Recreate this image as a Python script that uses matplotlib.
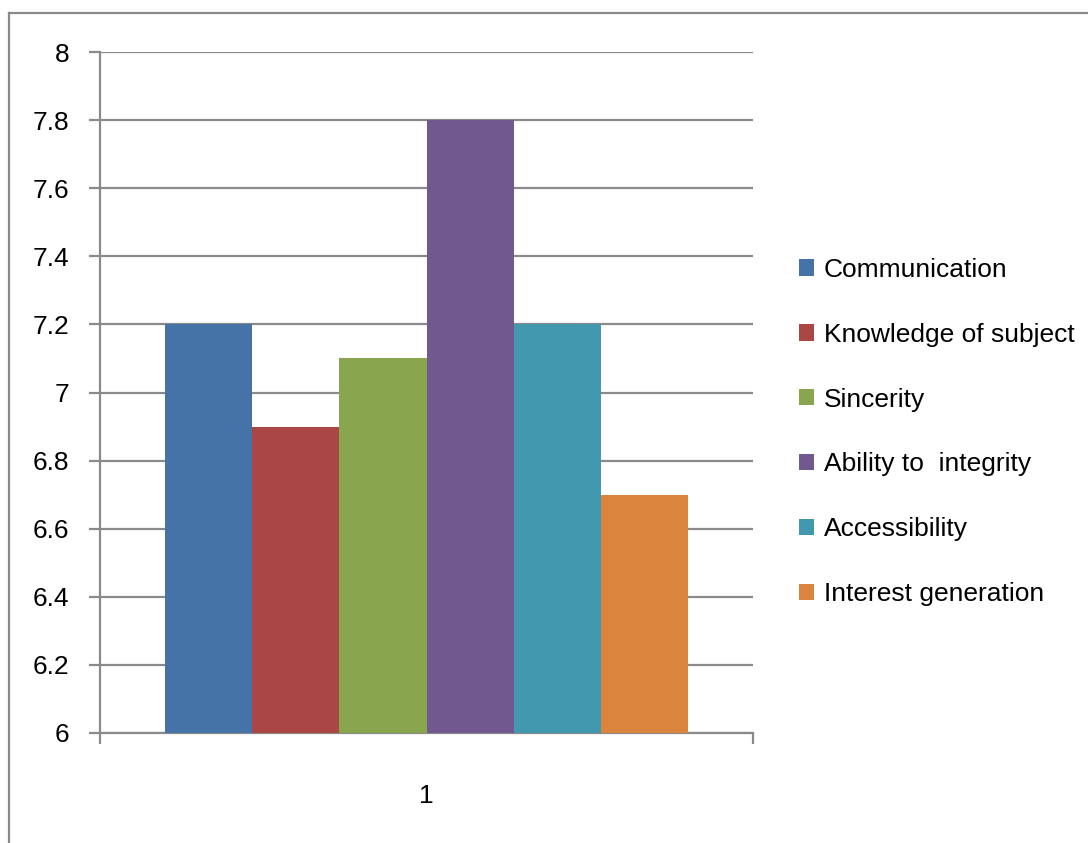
import matplotlib
matplotlib.use('Agg')
import matplotlib.pyplot as plt
from matplotlib.lines import Line2D

plt.rcParams['font.family'] = ['Liberation Sans Narrow', 'Liberation Sans', 'DejaVu Sans']
plt.rcParams['font.size'] = 19

labels = ['Communication', 'Knowledge of subject', 'Sincerity',
          'Ability to  integrity', 'Accessibility', 'Interest generation']
values = [7.2, 6.9, 7.1, 7.8, 7.2, 6.7]
colors = ['#4572A7', '#AA4643', '#89A54E', '#71588F', '#4198AF', '#DB843D']
yticks = [6, 6.2, 6.4, 6.6, 6.8, 7, 7.2, 7.4, 7.6, 7.8, 8]
ytick_labels = ['6', '6.2', '6.4', '6.6', '6.8', '7', '7.2', '7.4', '7.6', '7.8', '8']

grid_col = '#8a8a8a'
lw = 1.6

fig = plt.figure(figsize=(10.88, 8.43), dpi=100)
ax = fig.add_axes([100 / 1088, 1 - 733 / 843, 653 / 1088, 681 / 843])

n = len(values)
w = 0.8 / n
for i, (v, c, lab) in enumerate(zip(values, colors, labels)):
    x = 1 - 0.4 + w * (i + 0.5)
    ax.bar(x, v - 6, bottom=6, width=w, color=c, label=lab, zorder=3)

ax.set_xlim(0.5, 1.5)
ax.set_ylim(6, 8)
ax.set_yticks(yticks)
ax.set_yticklabels(ytick_labels)
ax.set_xticks([0.5, 1.5])
ax.set_xticklabels(['', ''])
ax.set_xticks([1], minor=True)
ax.set_xticklabels(['1'], minor=True)
ax.tick_params(axis='x', which='minor', length=0, pad=37)
ax.tick_params(axis='both', which='major', length=8, width=lw, color=grid_col,
               direction='out')
ax.tick_params(axis='y', pad=14)

ax.yaxis.grid(True, color=grid_col, linewidth=lw, zorder=0)
ax.set_axisbelow(True)
for s in ['top', 'right']:
    ax.spines[s].set_visible(False)
for s in ['left', 'bottom']:
    ax.spines[s].set_color(grid_col)
    ax.spines[s].set_linewidth(lw)

leg = ax.legend(loc='center left', bbox_to_anchor=(799 / 1088, 1 - 432 / 843),
                bbox_transform=fig.transFigure, frameon=False,
                handlelength=0.58, handleheight=0.58, handletextpad=0.35,
                labelspacing=1.55, borderpad=0, borderaxespad=0)

# outer chart frame (cut off on the right and bottom)
fig.add_artist(Line2D([9 / 1088, 9 / 1088], [0, 1 - 13 / 843],
                      transform=fig.transFigure, color=grid_col, linewidth=lw))
fig.add_artist(Line2D([9 / 1088, 1], [1 - 13 / 843, 1 - 13 / 843],
                      transform=fig.transFigure, color=grid_col, linewidth=lw))

fig.savefig('out.png', dpi=100)
